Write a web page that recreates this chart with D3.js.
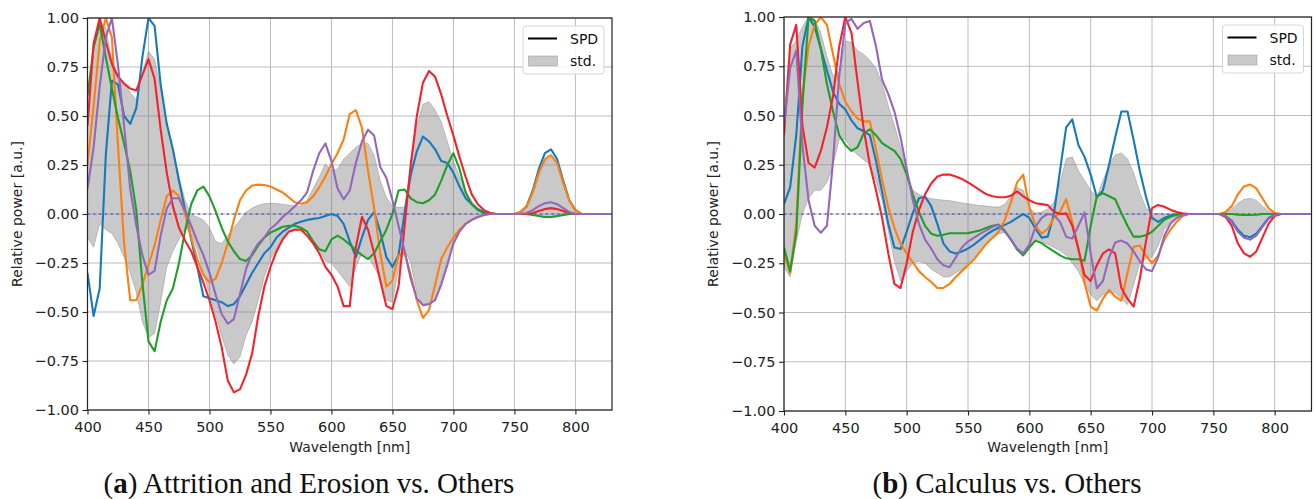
<!DOCTYPE html>
<html>
<head>
<meta charset="utf-8">
<script src="https://cdn.jsdelivr.net/npm/d3@7"></script>
<style>
  body { margin: 0; background: #fff; }
</style>
</head>
<body>
<div id="chart"></div>
<script>
// sampling grid (nm)
const wavelength = [
  400, 405, 410, 415, 420, 425, 430, 435, 440, 445,
  450, 455, 460, 465, 470, 475, 480, 485, 490, 495,
  500, 505, 510, 515, 520, 525, 530, 535, 540, 545,
  550, 555, 560, 565, 570, 575, 580, 585, 590, 595,
  600, 605, 610, 615, 620, 625, 630, 635, 640, 645,
  650, 655, 660, 665, 670, 675, 680, 685, 690, 695,
  700, 705, 710, 715, 720, 725, 730, 735, 740, 745,
  750, 755, 760, 765, 770, 775, 780, 785, 790, 795,
  800, 805, 810, 815, 820, 825, 830
];

const xTicks = [400, 450, 500, 550, 600, 650, 700, 750, 800];
const yTicks = [-1, -0.75, -0.5, -0.25, 0, 0.25, 0.5, 0.75, 1];

// ---- panel (a): Attrition and Erosion vs. Others ----
const aBlue = [
  -0.30, -0.52, -0.38, 0.30, 0.68, 0.66, 0.50, 0.46, 0.54, 0.80,
  1.00, 0.96, 0.66, 0.46, 0.33, 0.17, 0.02, -0.13, -0.27, -0.42,
  -0.43, -0.44, -0.45, -0.47, -0.46, -0.42, -0.36, -0.30, -0.25, -0.20,
  -0.17, -0.12, -0.09, -0.07, -0.05, -0.04, -0.03, -0.025, -0.02, -0.01,
  0.00, -0.01, -0.05, -0.14, -0.22, -0.12, -0.03, 0.01, -0.09, -0.22,
  -0.27, -0.21, 0.01, 0.20, 0.32, 0.395, 0.37, 0.33, 0.27, 0.26,
  0.21, 0.14, 0.08, 0.05, 0.025, 0.01, 0.005, 0, 0, 0,
  0, 0.01, 0.04, 0.12, 0.23, 0.31, 0.33, 0.28, 0.17, 0.07,
  0.02, 0, 0, 0, 0, 0, 0
];
const aOrange = [
  0.25, 0.55, 0.88, 1.00, 0.90, 0.35, -0.15, -0.44, -0.44, -0.36,
  -0.26, -0.16, -0.03, 0.09, 0.12, 0.09, 0.00, -0.12, -0.23, -0.31,
  -0.35, -0.33, -0.25, -0.15, -0.03, 0.07, 0.12, 0.145, 0.15, 0.148,
  0.14, 0.125, 0.11, 0.085, 0.06, 0.052, 0.06, 0.09, 0.136, 0.19,
  0.255, 0.31, 0.38, 0.51, 0.53, 0.44, 0.22, 0.03, -0.20, -0.37,
  -0.34, -0.21, -0.20, -0.31, -0.44, -0.53, -0.49, -0.36, -0.23, -0.17,
  -0.12, -0.08, -0.05, -0.03, -0.015, -0.005, 0, 0, 0, 0,
  0, 0.01, 0.04, 0.11, 0.21, 0.28, 0.30, 0.26, 0.16, 0.07,
  0.02, 0, 0, 0, 0, 0, 0
];
const aGreen = [
  0.60, 0.85, 0.97, 0.80, 0.64, 0.49, 0.36, 0.22, 0.02, -0.35,
  -0.65, -0.70, -0.55, -0.44, -0.38, -0.25, -0.085, 0.05, 0.12, 0.14,
  0.09, 0.015, -0.07, -0.14, -0.19, -0.23, -0.24, -0.21, -0.16, -0.12,
  -0.095, -0.08, -0.065, -0.06, -0.06, -0.07, -0.09, -0.14, -0.18, -0.19,
  -0.13, -0.11, -0.13, -0.155, -0.185, -0.21, -0.23, -0.20, -0.14, -0.08,
  0.00, 0.12, 0.125, 0.08, 0.06, 0.055, 0.07, 0.10, 0.17, 0.25,
  0.31, 0.23, 0.11, 0.05, 0.02, 0.005, 0, 0, 0, 0,
  0, 0, 0, -0.005, -0.01, -0.015, -0.015, -0.01, -0.005, 0,
  0, 0, 0, 0, 0, 0, 0
];
const aRed = [
  0.45, 0.87, 1.00, 0.88, 0.765, 0.70, 0.665, 0.64, 0.63, 0.71,
  0.79, 0.69, 0.43, 0.21, 0.04, -0.07, -0.136, -0.19, -0.27, -0.35,
  -0.44, -0.55, -0.68, -0.85, -0.91, -0.895, -0.82, -0.71, -0.52, -0.37,
  -0.27, -0.19, -0.13, -0.09, -0.08, -0.08, -0.11, -0.15, -0.20, -0.27,
  -0.31, -0.37, -0.47, -0.47, -0.17, -0.014, -0.08, -0.20, -0.34, -0.47,
  -0.485, -0.37, -0.06, 0.25, 0.50, 0.67, 0.73, 0.70, 0.61, 0.50,
  0.40, 0.29, 0.19, 0.10, 0.05, 0.02, 0.005, 0, 0, 0,
  0, 0, 0, 0.005, 0.015, 0.025, 0.03, 0.025, 0.015, 0.005,
  0, 0, 0, 0, 0, 0, 0
];
const aPurple = [
  0.13, 0.34, 0.65, 0.90, 1.00, 0.76, 0.45, 0.13, -0.06, -0.21,
  -0.31, -0.29, -0.11, 0.03, 0.08, 0.08, 0.017, -0.06, -0.14, -0.21,
  -0.30, -0.41, -0.51, -0.56, -0.536, -0.41, -0.28, -0.20, -0.15, -0.12,
  -0.075, -0.05, -0.015, 0.01, 0.04, 0.07, 0.11, 0.22, 0.31, 0.36,
  0.27, 0.13, 0.075, 0.12, 0.26, 0.37, 0.43, 0.40, 0.24, 0.185,
  0.07, -0.06, -0.19, -0.33, -0.43, -0.465, -0.46, -0.44, -0.36, -0.26,
  -0.15, -0.09, -0.05, -0.03, -0.015, -0.005, 0, 0, 0, 0,
  0, 0, 0.005, 0.02, 0.04, 0.055, 0.06, 0.05, 0.03, 0.01,
  0, 0, 0, 0, 0, 0, 0
];
const aStdUpper = [
  0.50, 0.85, 0.97, 0.95, 0.78, 0.71, 0.67, 0.62, 0.58, 0.72,
  0.83, 0.79, 0.64, 0.46, 0.32, 0.19, 0.07, -0.005, -0.015, -0.03,
  -0.07, -0.14, -0.15, -0.11, -0.07, -0.03, 0.01, 0.03, 0.045, 0.052,
  0.055, 0.053, 0.05, 0.045, 0.042, 0.04, 0.07, 0.13, 0.19, 0.255,
  0.22, 0.23, 0.28, 0.31, 0.34, 0.36, 0.36, 0.30, 0.17, 0.085,
  0.04, 0.034, 0.035, 0.26, 0.45, 0.56, 0.573, 0.53, 0.47, 0.37,
  0.27, 0.19, 0.12, 0.065, 0.03, 0.012, 0.004, 0, 0, 0,
  0, 0, 0.03, 0.10, 0.19, 0.27, 0.29, 0.25, 0.15, 0.06,
  0.02, 0, 0, 0, 0, 0, 0
];
const aStdLower = [
  -0.12, -0.17, -0.05, -0.08, -0.10, -0.15, -0.22, -0.30, -0.40, -0.55,
  -0.63, -0.61, -0.45, -0.27, -0.19, -0.13, -0.07, -0.10, -0.18, -0.30,
  -0.41, -0.52, -0.62, -0.72, -0.765, -0.73, -0.62, -0.55, -0.44, -0.32,
  -0.23, -0.18, -0.12, -0.09, -0.077, -0.08, -0.09, -0.13, -0.18, -0.24,
  -0.25, -0.29, -0.33, -0.37, -0.27, -0.20, -0.22, -0.27, -0.33, -0.44,
  -0.45, -0.28, -0.18, -0.25, -0.40, -0.47, -0.46, -0.44, -0.34, -0.24,
  -0.15, -0.09, -0.05, -0.03, -0.015, -0.005, 0, 0, 0, 0,
  0, 0, 0, -0.005, -0.012, -0.02, -0.02, -0.015, -0.008, -0.003,
  0, 0, 0, 0, 0, 0, 0
];

// ---- panel (b): Calculus vs. Others ----
const bBlue = [
  0.05, 0.135, 0.40, 0.85, 1.00, 0.95, 0.84, 0.73, 0.62, 0.56,
  0.53, 0.475, 0.435, 0.42, 0.40, 0.27, 0.11, -0.05, -0.17, -0.178,
  -0.09, 0.005, 0.08, 0.088, 0.04, -0.05, -0.15, -0.19, -0.20, -0.19,
  -0.175, -0.155, -0.13, -0.105, -0.085, -0.07, -0.055, -0.04, -0.02, 0.00,
  -0.02, -0.075, -0.12, -0.115, 0.00, 0.22, 0.44, 0.48, 0.35, 0.29,
  0.20, 0.085, 0.12, 0.25, 0.39, 0.52, 0.52, 0.376, 0.22, 0.09,
  -0.02, -0.04, -0.02, -0.007, -0.002, 0, 0, 0, 0, 0,
  0, 0, -0.01, -0.035, -0.08, -0.11, -0.118, -0.10, -0.06, -0.02,
  -0.005, 0, 0, 0, 0, 0, 0
];
const bOrange = [
  -0.20, -0.30, -0.05, 0.60, 0.85, 0.96, 1.00, 0.96, 0.81, 0.66,
  0.57, 0.52, 0.485, 0.47, 0.47, 0.33, 0.17, 0.034, -0.07, -0.15,
  -0.20, -0.245, -0.29, -0.32, -0.345, -0.376, -0.375, -0.355, -0.32, -0.29,
  -0.26, -0.23, -0.19, -0.15, -0.12, -0.09, -0.03, 0.06, 0.16, 0.20,
  0.035, -0.06, -0.10, -0.075, -0.02, 0.01, 0.076, -0.04, -0.17, -0.35,
  -0.47, -0.49, -0.43, -0.386, -0.42, -0.44, -0.30, -0.166, -0.16, -0.21,
  -0.25, -0.21, -0.13, -0.08, -0.04, -0.01, 0, 0, 0, 0,
  0, 0, 0.01, 0.04, 0.10, 0.14, 0.15, 0.13, 0.08, 0.03,
  0.005, 0, 0, 0, 0, 0, 0
];
const bGreen = [
  -0.17, -0.29, -0.10, 0.55, 1.00, 0.98, 0.84, 0.66, 0.52, 0.40,
  0.35, 0.32, 0.34, 0.41, 0.43, 0.40, 0.36, 0.34, 0.32, 0.28,
  0.20, 0.10, 0.01, -0.06, -0.10, -0.11, -0.105, -0.098, -0.098, -0.098,
  -0.097, -0.09, -0.083, -0.07, -0.06, -0.054, -0.085, -0.13, -0.18, -0.21,
  -0.17, -0.135, -0.148, -0.17, -0.19, -0.21, -0.225, -0.23, -0.23, -0.237,
  -0.06, 0.09, 0.105, 0.09, 0.075, 0.005, -0.06, -0.115, -0.115, -0.108,
  -0.09, -0.06, -0.03, -0.014, -0.004, 0, 0, 0, 0, 0,
  0, 0, 0, 0, -0.003, -0.005, -0.005, -0.004, 0, 0,
  0, 0, 0, 0, 0, 0, 0
];
const bRed = [
  0.40, 0.86, 0.96, 0.45, 0.26, 0.235, 0.32, 0.44, 0.60, 0.85,
  1.00, 0.92, 0.67, 0.43, 0.25, 0.12, -0.02, -0.20, -0.355, -0.376,
  -0.25, -0.09, 0.02, 0.10, 0.155, 0.19, 0.20, 0.20, 0.19, 0.178,
  0.16, 0.14, 0.12, 0.10, 0.09, 0.085, 0.085, 0.093, 0.115, 0.09,
  0.07, 0.055, 0.05, 0.045, 0.012, 0.00, 0.003, -0.06, -0.18, -0.31,
  -0.34, -0.26, -0.20, -0.18, -0.20, -0.376, -0.43, -0.47, -0.33, -0.14,
  0.03, 0.046, 0.037, 0.022, 0.01, 0.004, 0, 0, 0, 0,
  0, 0, -0.015, -0.06, -0.15, -0.20, -0.217, -0.19, -0.12, -0.05,
  -0.01, 0, 0, 0, 0, 0, 0
];
const bPurple = [
  0.45, 0.74, 0.83, 0.35, 0.07, -0.06, -0.095, -0.06, 0.27, 0.70,
  0.97, 0.99, 0.94, 0.97, 0.98, 0.85, 0.68, 0.61, 0.52, 0.39,
  0.23, 0.07, -0.05, -0.13, -0.175, -0.23, -0.26, -0.27, -0.22, -0.17,
  -0.14, -0.12, -0.10, -0.083, -0.065, -0.055, -0.09, -0.13, -0.175, -0.20,
  -0.155, -0.065, -0.02, 0.00, -0.005, -0.04, -0.115, -0.125, -0.06, 0.008,
  -0.20, -0.377, -0.34, -0.22, -0.145, -0.135, -0.15, -0.19, -0.24, -0.28,
  -0.29, -0.22, -0.11, -0.05, -0.02, -0.005, 0, 0, 0, 0,
  0, 0, -0.01, -0.04, -0.09, -0.12, -0.13, -0.11, -0.065, -0.025,
  -0.005, 0, 0, 0, 0, 0, 0
];
const bStdUpper = [
  0.50, 0.84, 0.88, 0.95, 1.00, 0.99, 0.92, 0.80, 0.70, 0.72,
  0.88, 0.87, 0.83, 0.81, 0.78, 0.74, 0.66, 0.55, 0.45, 0.34,
  0.22, 0.12, 0.10, 0.085, 0.078, 0.074, 0.07, 0.068, 0.062, 0.056,
  0.052, 0.047, 0.043, 0.04, 0.037, 0.035, 0.05, 0.093, 0.135, 0.12,
  0.03, 0.005, 0.01, 0.025, 0.06, 0.16, 0.28, 0.29, 0.22, 0.17,
  0.12, 0.088, 0.17, 0.25, 0.30, 0.31, 0.28, 0.21, 0.11, 0.03,
  0.005, 0.002, 0, 0, 0, 0, 0, 0, 0, 0,
  0, 0, 0.005, 0.025, 0.055, 0.075, 0.08, 0.07, 0.04, 0.015,
  0.003, 0, 0, 0, 0, 0, 0
];
const bStdLower = [
  -0.27, -0.32, -0.14, 0.00, 0.08, 0.12, 0.12, 0.16, 0.25, 0.38,
  0.38, 0.33, 0.30, 0.275, 0.25, 0.17, 0.068, -0.085, -0.24, -0.34,
  -0.29, -0.25, -0.24, -0.25, -0.28, -0.30, -0.32, -0.32, -0.30, -0.28,
  -0.25, -0.22, -0.19, -0.155, -0.125, -0.10, -0.095, -0.135, -0.185, -0.20,
  -0.165, -0.14, -0.14, -0.155, -0.17, -0.185, -0.21, -0.25, -0.29, -0.36,
  -0.41, -0.44, -0.41, -0.40, -0.40, -0.43, -0.46, -0.36, -0.25, -0.225,
  -0.22, -0.16, -0.08, -0.04, -0.015, -0.004, 0, 0, 0, 0,
  0, 0, -0.01, -0.035, -0.08, -0.11, -0.12, -0.10, -0.06, -0.02,
  -0.005, 0, 0, 0, 0, 0, 0
];

const lineColors = ["#1778bd", "#ff7f0e", "#1f9e2a", "#f5222d", "#9467bd"];

const panels = [
  { id: "a", left: 87.5, right: 612, top: 18, bottom: 410,
    series: [aBlue, aOrange, aGreen, aRed, aPurple],
    upper: aStdUpper, lower: aStdLower,
    yLabelX: 22, caption: ") Attrition and Erosion vs. Others", captionX: 309 },
  { id: "b", left: 784, right: 1311.5, top: 17, bottom: 411,
    series: [bBlue, bOrange, bGreen, bRed, bPurple],
    upper: bStdUpper, lower: bStdLower,
    yLabelX: 717.5, caption: ") Calculus vs. Others", captionX: 1007 }
];

const svg = d3.select("#chart").append("svg")
  .attr("width", 1314)
  .attr("height", 499)
  .style("font-family", "'DejaVu Sans', sans-serif");

panels.forEach(p => {
  const x = d3.scaleLinear().domain([400, 830]).range([p.left, p.right]);
  const y = d3.scaleLinear().domain([-1, 1]).range([p.bottom, p.top]);
  const g = svg.append("g");

  g.append("clipPath").attr("id", "clip-" + p.id)
    .append("rect")
    .attr("x", p.left).attr("y", p.top)
    .attr("width", p.right - p.left).attr("height", p.bottom - p.top);

  // grid
  g.append("g").selectAll("line").data(xTicks).join("line")
    .attr("x1", d => x(d)).attr("x2", d => x(d))
    .attr("y1", p.top).attr("y2", p.bottom)
    .attr("stroke", "#bcbcbc").attr("stroke-width", 1);
  g.append("g").selectAll("line").data(yTicks).join("line")
    .attr("x1", p.left).attr("x2", p.right)
    .attr("y1", d => y(d)).attr("y2", d => y(d))
    .attr("stroke", "#bcbcbc").attr("stroke-width", 1);

  const plot = g.append("g").attr("clip-path", `url(#clip-${p.id})`);

  // std band
  const band = d3.area()
    .x((d, i) => x(wavelength[i]))
    .y0((d, i) => y(p.lower[i]))
    .y1(d => y(d));
  plot.append("path")
    .datum(p.upper)
    .attr("d", band)
    .attr("fill", "#7f7f7f")
    .attr("fill-opacity", 0.42)
    .attr("stroke", "#8a8a8a")
    .attr("stroke-opacity", 0.45)
    .attr("stroke-width", 1);

  // zero reference
  plot.append("line")
    .attr("x1", p.left).attr("x2", p.right)
    .attr("y1", y(0)).attr("y2", y(0))
    .attr("stroke", "#5050ee")
    .attr("stroke-width", 1.7)
    .attr("stroke-dasharray", "2.2,3.6")
    .attr("opacity", 0.9);

  const line = d3.line()
    .x((d, i) => x(wavelength[i]))
    .y(d => y(d));
  p.series.forEach((s, k) => {
    plot.append("path")
      .datum(s)
      .attr("d", line)
      .attr("fill", "none")
      .attr("stroke", lineColors[k])
      .attr("stroke-width", 2.1)
      .attr("stroke-linejoin", "round");
  });

  // axes
  const xAxis = g.append("g")
    .attr("transform", `translate(0,${p.bottom})`)
    .call(d3.axisBottom(x).tickValues(xTicks).tickSize(4.5).tickPadding(7));
  const yAxis = g.append("g")
    .attr("transform", `translate(${p.left},0)`)
    .call(d3.axisLeft(y).tickValues(yTicks).tickFormat(d3.format(".2f")).tickSize(5).tickPadding(3.5));
  [xAxis, yAxis].forEach(a => {
    a.select(".domain").remove();
    a.selectAll("line").attr("stroke", "#222").attr("stroke-width", 1.1);
    a.selectAll("text").attr("fill", "#222").style("font-size", "14.5px")
      .style("font-family", "'DejaVu Sans', sans-serif");
  });

  // frame
  g.append("rect")
    .attr("x", p.left).attr("y", p.top)
    .attr("width", p.right - p.left).attr("height", p.bottom - p.top)
    .attr("fill", "none").attr("stroke", "#222").attr("stroke-width", 1.2);

  // axis labels
  g.append("text")
    .attr("x", (p.left + p.right) / 2).attr("y", 452)
    .attr("text-anchor", "middle")
    .style("font-size", "14px").attr("fill", "#222")
    .text("Wavelength [nm]");
  g.append("text")
    .attr("transform", `translate(${p.yLabelX},${(p.top + p.bottom) / 2}) rotate(-90)`)
    .attr("text-anchor", "middle")
    .style("font-size", "14px").attr("fill", "#222")
    .text("Relative power [a.u.]");

  // legend
  const lx = p.right - 89, ly = p.top + 8;
  const leg = g.append("g").attr("transform", `translate(${lx},${ly})`);
  leg.append("rect")
    .attr("width", 81).attr("height", 48).attr("rx", 3)
    .attr("fill", "#fff").attr("fill-opacity", 0.85)
    .attr("stroke", "#d6d6d6").attr("stroke-width", 1);
  leg.append("line")
    .attr("x1", 5).attr("x2", 34).attr("y1", 12.5).attr("y2", 12.5)
    .attr("stroke", "#000").attr("stroke-width", 2);
  leg.append("text").attr("x", 47).attr("y", 18)
    .style("font-size", "14px").attr("fill", "#111").text("SPD");
  leg.append("rect")
    .attr("x", 5.5).attr("y", 30).attr("width", 29).attr("height", 10)
    .attr("fill", "#7f7f7f").attr("fill-opacity", 0.42)
    .attr("stroke", "#8a8a8a").attr("stroke-opacity", 0.45);
  leg.append("text").attr("x", 47).attr("y", 40)
    .style("font-size", "14px").attr("fill", "#111").text("std.");

  // caption
  const cap = g.append("text")
    .attr("x", p.captionX).attr("y", 493)
    .attr("text-anchor", "middle")
    .style("font-family", "'Liberation Serif', 'Times New Roman', serif")
    .style("font-size", "29px").attr("fill", "#111");
  cap.append("tspan").text("(");
  cap.append("tspan").style("font-weight", "bold").text(p.id);
  cap.append("tspan").text(p.caption);
});
</script>
</body>
</html>
